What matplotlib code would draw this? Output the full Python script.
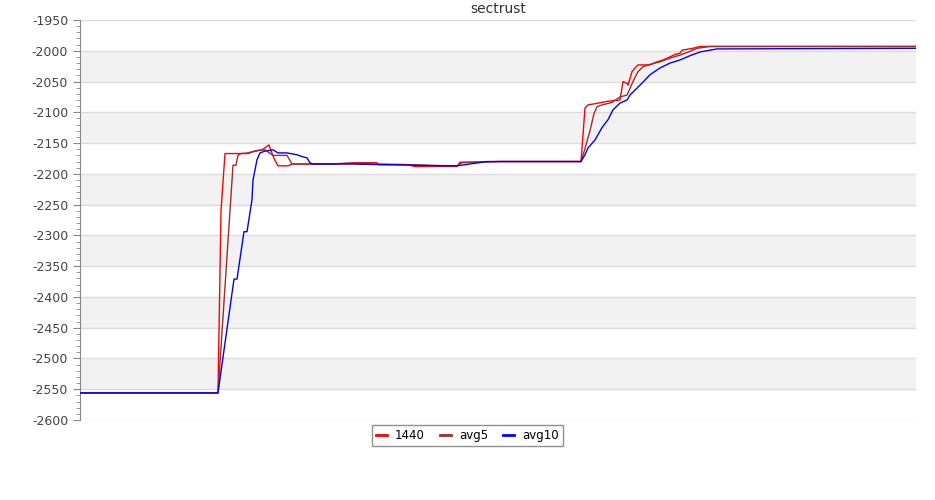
import matplotlib
matplotlib.use("Agg")
import matplotlib.pyplot as plt
from matplotlib.ticker import MultipleLocator

# series breakpoints (sample index, value)
x_1440 = [0, 138, 141, 145, 168, 173, 182, 189, 193, 195, 198, 208, 212, 250, 275,
          297, 298, 327, 335, 360, 377, 380, 390, 420, 501, 505, 508, 515, 528, 540,
          543, 547, 548, 552, 555, 558, 570, 577, 583, 590, 595, 600, 602, 613, 620, 836]
y_1440 = [-2556, -2556, -2260, -2167, -2167, -2164, -2161, -2153, -2171, -2178, -2187,
          -2187, -2184, -2184, -2182, -2182, -2185, -2185, -2188, -2188, -2188, -2181,
          -2181, -2180, -2180, -2093, -2088, -2086, -2082, -2080, -2050, -2053, -2056,
          -2034, -2028, -2023, -2023, -2018, -2015, -2010, -2006, -2004, -1999, -1996,
          -1993, -1993]

x_avg5 = [0, 138, 153, 156, 158, 161, 168, 177, 185, 193, 207, 212, 250, 275, 297,
          327, 360, 377, 382, 395, 420, 501, 505, 510, 514, 517, 522, 532, 540, 547,
          550, 553, 558, 563, 570, 580, 590, 600, 610, 617, 630, 836]
y_avg5 = [-2556, -2556, -2186, -2186, -2170, -2167, -2166, -2162, -2161, -2170, -2170,
          -2184, -2184, -2183, -2184, -2185, -2187, -2187, -2182, -2181, -2180, -2180,
          -2159, -2130, -2102, -2091, -2088, -2084, -2075, -2072, -2061, -2050, -2034,
          -2026, -2022, -2018, -2012, -2007, -2001, -1996, -1993, -1993]

x_avg10 = [0, 138, 154, 157, 164, 167, 172, 173, 177, 180, 185, 193, 198, 207, 217,
           222, 227, 230, 233, 250, 273, 300, 337, 377, 407, 501, 505, 508, 515, 522,
           528, 533, 540, 547, 550, 563, 570, 580, 590, 600, 610, 620, 630, 637, 836]
y_avg10 = [-2556, -2556, -2371, -2371, -2294, -2294, -2242, -2210, -2177, -2166, -2163,
           -2161, -2166, -2166, -2169, -2172, -2174, -2182, -2184, -2184, -2184, -2185,
           -2186, -2187, -2180, -2180, -2169, -2158, -2145, -2125, -2112, -2096, -2085,
           -2080, -2072, -2051, -2039, -2028, -2020, -2015, -2008, -2002, -1999, -1997,
           -1996]

series = [("1440", x_1440, y_1440, "#ff0000"),
          ("avg5", x_avg5, y_avg5, "#a52a2a"),
          ("avg10", x_avg10, y_avg10, "#0000ff")]

y_min, y_max = -2600, -1950
bands = [(-2050, -2000), (-2150, -2100), (-2250, -2200),
         (-2350, -2300), (-2450, -2400), (-2550, -2500)]

plt.rcParams["axes.unicode_minus"] = False
fig = plt.figure(figsize=(9.35, 5.0), dpi=100)
ax = fig.add_axes([80 / 935, 80 / 500, 836 / 935, 400 / 500])

for lo, hi in bands:
    ax.axhspan(lo, hi, color="#f2f2f2", lw=0, zorder=0)
for v in range(y_min, y_max + 1, 50):
    ax.axhline(v, color="#dcdcdc", lw=1, zorder=1)

for name, xs, ys, c in series:
    ax.plot(xs, ys, color=c, lw=1, label=name, zorder=3)

ax.set_xlim(0, 836)
ax.set_ylim(y_min, y_max)
ax.yaxis.set_major_locator(MultipleLocator(50))
ax.yaxis.set_minor_locator(MultipleLocator(10))
ax.set_xticks([])
for s in ["top", "right", "bottom"]:
    ax.spines[s].set_visible(False)
ax.spines["left"].set_color("#888888")
ax.tick_params(axis="y", which="major", length=5, color="#888888",
               labelsize=9, labelcolor="#444444")
ax.tick_params(axis="y", which="minor", length=3, color="#888888")

ax.set_title("sectrust", fontsize=10, color="#333333", pad=5)

leg = fig.legend(loc="upper center", bbox_to_anchor=(0.5, 1 - 425 / 500), ncol=3,
                 fontsize=8.5, frameon=True, fancybox=False, handlelength=0.9,
                 handletextpad=0.7, columnspacing=1.3, borderpad=0.35,
                 borderaxespad=0)
leg.get_frame().set_edgecolor("#777777")
leg.get_frame().set_linewidth(1)
for line in leg.get_lines():
    line.set_linewidth(2)

fig.savefig("out.png", dpi=100)
